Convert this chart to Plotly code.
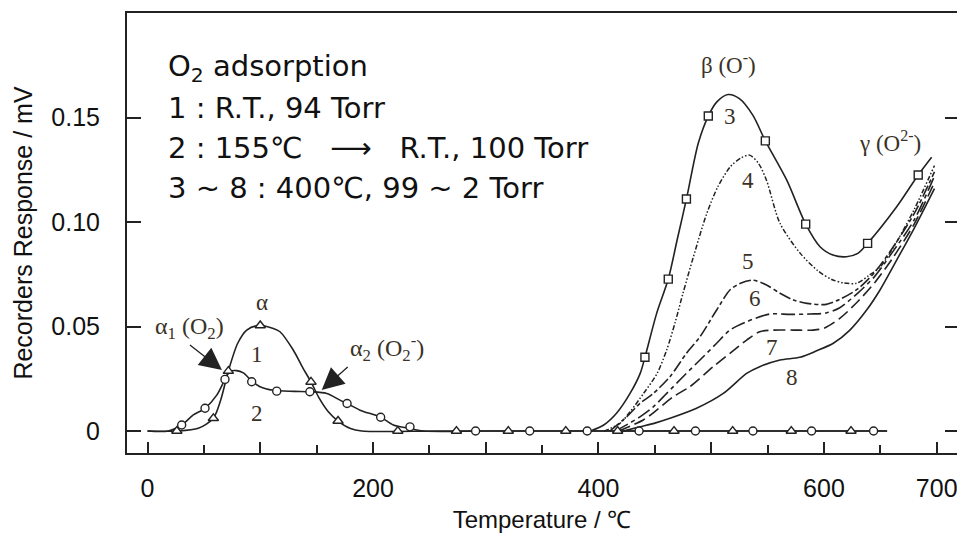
import plotly.graph_objects as go

# ---- data (temperature in deg C, response in mV) ----
# 1 : R.T., 94 Torr
t1 = [0, 26, 45, 58.4, 65, 71.7, 80, 88, 99, 111.6, 117.5, 129, 138, 145, 152, 160, 169, 180, 190, 260, 400, 656]
r1 = [0, 0, 0.0013, 0.0061, 0.015, 0.0287, 0.042, 0.0483, 0.0505, 0.0491, 0.0475, 0.039, 0.030, 0.0235, 0.016,
      0.0095, 0.0048, 0.0012, 0, 0, 0, 0]
t1_pts = [26, 58.4, 71.7, 100, 145, 169, 222, 274, 320, 371, 417, 467, 519, 571, 624]
r1_pts = [0, 0.0061, 0.0287, 0.0505, 0.0235, 0.0048, 0, 0, 0, 0, 0, 0, 0, 0, 0]

# 2 : 155 C -> R.T., 100 Torr
t2 = [0, 18.5, 30.3, 40.6, 51, 61.4, 68.7, 73, 79, 85, 92.4, 99.8, 111.6, 130, 144, 159, 170.7, 177, 188.5,
      206.8, 218, 232.8, 245, 300, 450, 656]
r2 = [0, 0, 0.0029, 0.0077, 0.0109, 0.0172, 0.0247, 0.0284, 0.0289, 0.0278, 0.0240, 0.0212, 0.0195, 0.019,
      0.0188, 0.018, 0.0148, 0.0132, 0.010, 0.0066, 0.0029, 0.0012, 0, 0, 0, 0]
t2_pts = [30.3, 51, 68.7, 92.4, 114.6, 144, 177, 206.8, 232.8, 291, 339, 390, 436, 486, 537, 589, 644]
r2_pts = [0.0029, 0.0109, 0.0247, 0.0236, 0.0191, 0.0188, 0.0132, 0.0066, 0.002, 0, 0, 0, 0, 0, 0, 0, 0]

# 3 ~ 8 : 400 C, 99 ~ 2 Torr
t3 = [393, 405, 416, 428, 437, 441.2, 451.6, 461.9, 470, 478, 488.5, 497.4, 505, 515, 525, 537, 548, 567,
      583.8, 596.5, 608, 620, 630, 638.7, 664.5, 683.6, 695.5]
r3 = [0, 0.003, 0.0085, 0.018, 0.0276, 0.0353, 0.0563, 0.0727, 0.092, 0.111, 0.1377, 0.1507, 0.1575, 0.161,
      0.159, 0.151, 0.1388, 0.120, 0.099, 0.0882, 0.0842, 0.0834, 0.085, 0.0898, 0.1073, 0.1225, 0.131]
t3_pts = [441.2, 461.9, 478, 497.4, 548, 583.8, 638.7, 683.6]
r3_pts = [0.0353, 0.0727, 0.111, 0.1507, 0.1388, 0.099, 0.0898, 0.1225]

t4 = [405, 419, 428, 440, 452, 460.5, 468, 475, 484, 496, 506, 517, 526, 534, 542, 549, 561, 579, 595, 607,
      618, 629, 640, 650, 665, 680, 698]
r4 = [0, 0.0037, 0.0092, 0.018, 0.0276, 0.0388, 0.052, 0.066, 0.083, 0.104, 0.117, 0.1265, 0.1305, 0.132,
      0.128, 0.120, 0.0994, 0.085, 0.0765, 0.0725, 0.0708, 0.0707, 0.0745, 0.0786, 0.091, 0.106, 0.127]

t5 = [410, 425, 436.8, 448.6, 463.4, 478, 490, 504.8, 516.6, 526, 537, 549, 561, 573, 585, 602, 614, 630,
      645, 660, 680, 698]
r5 = [0, 0.0068, 0.0132, 0.018, 0.026, 0.0372, 0.0451, 0.0579, 0.0675, 0.0707, 0.0722, 0.0699, 0.0659,
      0.0627, 0.0611, 0.0606, 0.063, 0.068, 0.076, 0.087, 0.104, 0.124]

t6 = [415, 436.8, 448.6, 460.5, 475, 490, 504.8, 516.6, 531.4, 552, 570, 587.5, 602, 614, 630, 645, 660,
      680, 698]
r6 = [0, 0.0068, 0.0116, 0.018, 0.026, 0.034, 0.042, 0.0483, 0.0523, 0.056, 0.0558, 0.056, 0.0565, 0.059,
      0.066, 0.074, 0.085, 0.101, 0.122]

t7 = [418, 439.7, 451.6, 466.3, 481, 501.8, 516.6, 531.4, 543, 555, 573, 590.5, 600, 614, 630, 645, 660,
      680, 698]
r7 = [0, 0.0053, 0.010, 0.0164, 0.0212, 0.0308, 0.0372, 0.0435, 0.0475, 0.0483, 0.0483, 0.0483, 0.0492,
      0.0539, 0.062, 0.071, 0.082, 0.099, 0.119]

t8 = [422, 436.8, 450, 463.4, 487, 510.7, 531.4, 543, 561, 578.7, 593.5, 608.3, 623, 638, 649.7, 664.5,
      680, 698]
r8 = [0, 0.002, 0.0038, 0.0061, 0.0109, 0.018, 0.0276, 0.0308, 0.034, 0.0353, 0.0384, 0.042, 0.0483,
      0.058, 0.0675, 0.0818, 0.097, 0.116]

x_label_ticks = [0, 200, 400, 600, 700]
x_label_text = ["0", "200", "400", "600", "700"]
x_major_ticks = [0, 100, 200, 300, 400, 500, 600, 700]
y_ticks = [0, 0.05, 0.10, 0.15]
y_tick_text = ["0", "0.05", "0.10", "0.15"]

INK = "#222222"
LABEL = "#3a3226"
SANS = "Liberation Sans, Arial, sans-serif"
NOTE = "DejaVu Sans, Liberation Sans, sans-serif"
SERIF = "Liberation Serif, Times New Roman, serif"
X_RANGE = [-18.2, 718]
Y_RANGE = [-0.0105, 0.2]

fig = go.Figure()


def curve(x, y, dash="solid", width=1.6):
    fig.add_trace(go.Scatter(x=x, y=y, mode="lines",
                             line=dict(color=INK, width=width, dash=dash, shape="spline", smoothing=0.8),
                             hoverinfo="skip", showlegend=False))


def points(x, y, symbol, size):
    fig.add_trace(go.Scatter(x=x, y=y, mode="markers",
                             marker=dict(symbol=symbol, size=size, color="white",
                                         line=dict(color=INK, width=1.4)),
                             hoverinfo="skip", showlegend=False))


curve(t1, r1)
curve(t2, r2)
curve(t8, r8)
curve(t7, r7, dash="12px,5px")
curve(t6, r6, dash="14px,4px,4px,4px")
curve(t5, r5, dash="12px,3px,4px,3px")
curve(t4, r4, dash="5px,2px,1.5px,2px,1.5px,2px", width=1.5)
curve(t3, r3)
points(t1_pts, r1_pts, "triangle-up", 9)
points(t2_pts, r2_pts, "circle", 8)
points(t3_pts, r3_pts, "square", 8)

# companion axes: unlabeled 100-step ticks along x, tick marks on the right edge
fig.add_trace(go.Scatter(x=[], y=[], xaxis="x2", yaxis="y2", showlegend=False, hoverinfo="skip"))

# curve labels
labels = [
    ("α", 101.6, 0.0617),
    ("1", 96.8, 0.0364),
    ("2", 96.8, 0.0085),
    ("β (O<sup>-</sup>)", 515, 0.176),
    ("3", 516.6, 0.1504),
    ("4", 532.9, 0.120),
    ("5", 532.9, 0.081),
    ("6", 538.8, 0.0635),
    ("7", 553.6, 0.040),
    ("8", 571.3, 0.0257),
    ("γ (O<sup>2-</sup>)", 658.5, 0.1385),
]
for text, x, y in labels:
    fig.add_annotation(x=x, y=y, text=text, showarrow=False,
                       font=dict(family=SERIF, size=23, color=LABEL),
                       xanchor="center", yanchor="middle")

# alpha1 / alpha2 shoulders, labelled with arrows
fig.add_annotation(x=66, y=0.0292, text="α<sub>1</sub> (O<sub>2</sub>)", showarrow=True,
                   arrowhead=2, arrowsize=3.4, arrowwidth=1.3, arrowcolor=INK, ax=-32, ay=-25,
                   xanchor="center", yanchor="bottom",
                   font=dict(family=SERIF, size=24, color=LABEL))
fig.add_annotation(x=154.5, y=0.0196, text="α<sub>2</sub> (O<sub>2</sub><sup>-</sup>)", showarrow=True,
                   arrowhead=2, arrowsize=3.4, arrowwidth=1.3, arrowcolor=INK, ax=26, ay=-23,
                   xanchor="left", yanchor="bottom",
                   font=dict(family=SERIF, size=24, color=LABEL))

# adsorption conditions
nb = "\u00a0"
notes = [
    ("O<sub>2</sub> adsorption", 0.1737),
    ("1 : R.T., 94 Torr", 0.1545),
    ("2 : 155℃" + nb * 3 + "\u27f6" + nb * 3 + "R.T., 100 Torr", 0.1353),
    ("3 ~ 8 : 400℃, 99 ~ 2 Torr", 0.1163),
]
for text, y in notes:
    fig.add_annotation(x=16.4, y=y, text=text, showarrow=False, xanchor="left", yanchor="middle",
                       font=dict(family=NOTE, size=29, color="#111111"))

fig.update_layout(
    width=957, height=533,
    margin=dict(l=127, r=0, t=13, b=80, autoexpand=False),
    paper_bgcolor="white", plot_bgcolor="white",
    showlegend=False,
    xaxis=dict(
        range=X_RANGE, tickvals=x_label_ticks, ticktext=x_label_text,
        ticks="inside", ticklen=11, tickwidth=1.5, tickcolor=INK,
        minor=dict(dtick=50, tick0=0, ticks="inside", ticklen=8, tickwidth=1.5, tickcolor=INK),
        showline=True, linewidth=2, linecolor=INK, mirror=True,
        showgrid=False, zeroline=False,
        tickfont=dict(family=SANS, size=25, color="#111111"),
        ticklabelstandoff=12, ticklabeloverflow="allow",
        title=dict(text="Temperature / ℃", font=dict(family=SANS, size=24, color="#111111"), standoff=14),
    ),
    xaxis2=dict(
        overlaying="x", side="bottom", range=X_RANGE, tickvals=x_major_ticks,
        ticks="inside", ticklen=11, tickwidth=1.5, tickcolor=INK,
        showticklabels=False, showline=False, showgrid=False, zeroline=False,
    ),
    yaxis=dict(
        range=Y_RANGE, tickvals=y_ticks, ticktext=y_tick_text,
        ticks="inside", ticklen=14, tickwidth=1.5, tickcolor=INK,
        showline=True, linewidth=2, linecolor=INK,
        showgrid=False, zeroline=False,
        tickfont=dict(family=SANS, size=25, color="#111111"),
        ticklabelstandoff=20,
        title=dict(text="Recorders Response / mV", font=dict(family=SANS, size=25, color="#111111"), standoff=12),
    ),
    yaxis2=dict(
        overlaying="y", side="right", range=Y_RANGE, tickvals=y_ticks,
        ticks="inside", ticklen=12, tickwidth=1.5, tickcolor=INK,
        showticklabels=False, showline=False, showgrid=False, zeroline=False,
    ),
)

fig.write_html("out.html")
